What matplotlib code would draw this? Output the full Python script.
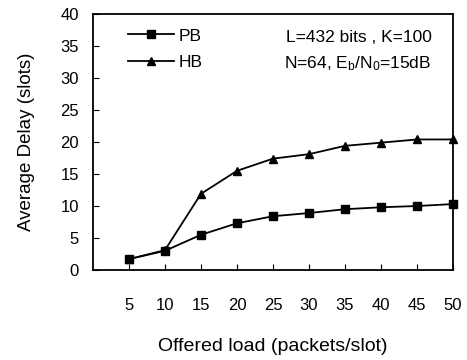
import matplotlib.pyplot as plt

plt.rcParams['font.family'] = ['Liberation Sans', 'DejaVu Sans']
plt.rcParams['mathtext.default'] = 'regular'

load = [5, 10, 15, 20, 25, 30, 35, 40, 45, 50]
pb = [1.7, 3.0, 5.5, 7.3, 8.4, 8.9, 9.5, 9.8, 10.0, 10.3]
hb = [1.7, 3.1, 11.9, 15.5, 17.4, 18.1, 19.4, 19.9, 20.4, 20.4]

fig = plt.figure(figsize=(4.67, 3.6), dpi=100)
ax = fig.add_axes([0.199, 0.25, 0.771, 0.711])

ax.plot(load, pb, color='black', marker='s', markersize=6, linewidth=1.3, label='PB', clip_on=False)
ax.plot(load, hb, color='black', marker='^', markersize=6, linewidth=1.3, label='HB', clip_on=False)

ax.set_xlim(0, 50)
ax.set_ylim(0, 40)
ax.set_xticks(load)
ax.set_yticks(range(0, 41, 5))
ax.tick_params(axis='x', direction='in', length=4, pad=20, labelsize=12)
ax.tick_params(axis='y', direction='in', length=4, pad=10, labelsize=12)
for s in ax.spines.values():
    s.set_linewidth(1.3)

ax.set_xlabel('Offered load (packets/slot)', fontsize=14, labelpad=18)
ax.set_ylabel('Average Delay (slots)', fontsize=13.5, labelpad=18)

ax.legend(loc='upper left', frameon=False, fontsize=12.5, handlelength=2.6,
          bbox_to_anchor=(0.055, 1.005), labelspacing=0.65, handletextpad=0.3)

ax.text(0.94, 0.91, 'L=432 bits , K=100', transform=ax.transAxes, ha='right', va='center', fontsize=12.5)
ax.text(0.94, 0.805, 'N=64, E$_b$/N$_0$=15dB', transform=ax.transAxes, ha='right', va='center', fontsize=12.5)

fig.savefig('out.png', dpi=100)
